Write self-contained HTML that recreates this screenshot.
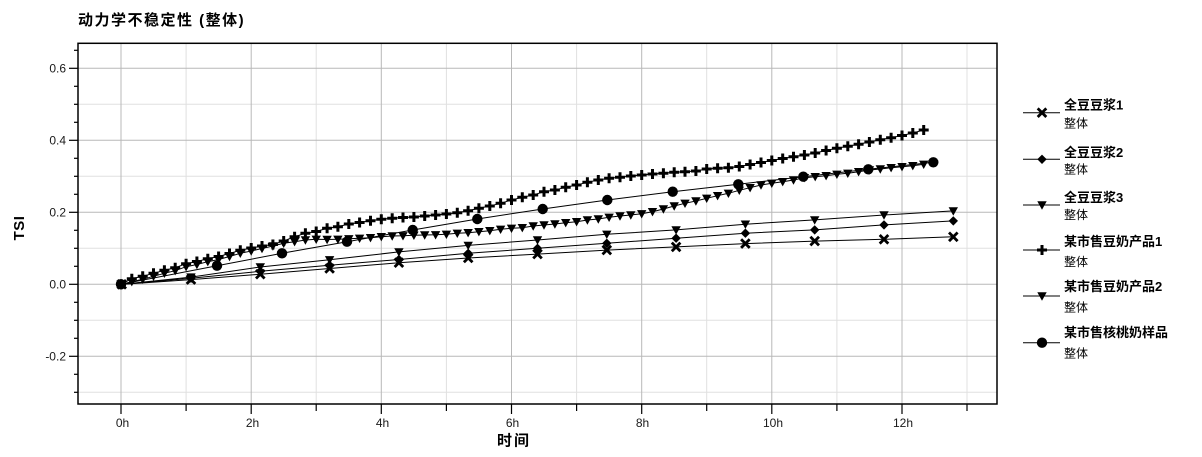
<!DOCTYPE html>
<html>
<head>
<meta charset="utf-8">
<style>
  html, body { margin: 0; padding: 0; background: #fff; }
  body { width: 1202px; height: 457px; overflow: hidden; position: relative; }
  svg { position: absolute; left: 0; top: 0; }
  .tk { font-family: "Liberation Sans", "Noto Sans CJK SC", sans-serif; font-size: 12px; fill: #1a1a1a; }
  .bold { font-family: "Liberation Sans", "Noto Sans CJK SC", sans-serif; font-weight: bold; fill: #000; }
  .lg { font-family: "Liberation Sans", "Noto Sans CJK SC", sans-serif; font-size: 12px; fill: #000; }
</style>
</head>
<body>
<svg width="1202" height="457" viewBox="0 0 1202 457" xmlns="http://www.w3.org/2000/svg">
  <defs>
    <marker id="mx" markerUnits="userSpaceOnUse" markerWidth="12" markerHeight="12" refX="6" refY="6" overflow="visible">
      <path d="M1.7,1.7 L10.3,10.3 M10.3,1.7 L1.7,10.3" stroke="#000" stroke-width="2.8" fill="none"/>
    </marker>
    <marker id="md" markerUnits="userSpaceOnUse" markerWidth="12" markerHeight="12" refX="6" refY="6" overflow="visible">
      <path d="M6,1.3 L10.7,6 L6,10.7 L1.3,6 Z" fill="#000"/>
    </marker>
    <marker id="mt" markerUnits="userSpaceOnUse" markerWidth="12" markerHeight="12" refX="6" refY="6" overflow="visible">
      <path d="M1.3,2.3 L10.7,2.3 L6,10.7 Z" fill="#000"/>
    </marker>
    <marker id="mp" markerUnits="userSpaceOnUse" markerWidth="12" markerHeight="12" refX="6" refY="6" overflow="visible">
      <path d="M1,6 H11 M6,1 V11" stroke="#000" stroke-width="3" fill="none"/>
    </marker>
    <marker id="mc" markerUnits="userSpaceOnUse" markerWidth="12" markerHeight="12" refX="6" refY="6" overflow="visible">
      <circle cx="6" cy="6" r="5.2" fill="#000"/>
    </marker>
  </defs>

  <!-- Title -->
  <text class="bold" x="78" y="25" font-size="15" letter-spacing="1.5">动力学不稳定性 (整体)</text>

  <!-- minor grid -->
  <g stroke="#e0e0e0" stroke-width="1">
    <line x1="186.1" y1="43" x2="186.1" y2="404"/>
    <line x1="316.2" y1="43" x2="316.2" y2="404"/>
    <line x1="446.4" y1="43" x2="446.4" y2="404"/>
    <line x1="576.6" y1="43" x2="576.6" y2="404"/>
    <line x1="706.7" y1="43" x2="706.7" y2="404"/>
    <line x1="836.9" y1="43" x2="836.9" y2="404"/>
    <line x1="967" y1="43" x2="967" y2="404"/>
    <line x1="78" y1="104.3" x2="997" y2="104.3"/>
    <line x1="78" y1="176.3" x2="997" y2="176.3"/>
    <line x1="78" y1="248.3" x2="997" y2="248.3"/>
    <line x1="78" y1="320.3" x2="997" y2="320.3"/>
    <line x1="78" y1="392.3" x2="997" y2="392.3"/>
  </g>
  <!-- major grid -->
  <g stroke="#b8b8b8" stroke-width="1">
    <line x1="121" y1="43" x2="121" y2="404"/>
    <line x1="251.2" y1="43" x2="251.2" y2="404"/>
    <line x1="381.3" y1="43" x2="381.3" y2="404"/>
    <line x1="511.5" y1="43" x2="511.5" y2="404"/>
    <line x1="641.7" y1="43" x2="641.7" y2="404"/>
    <line x1="771.8" y1="43" x2="771.8" y2="404"/>
    <line x1="902" y1="43" x2="902" y2="404"/>
    <line x1="78" y1="68.3" x2="997" y2="68.3"/>
    <line x1="78" y1="140.3" x2="997" y2="140.3"/>
    <line x1="78" y1="212.3" x2="997" y2="212.3"/>
    <line x1="78" y1="284.3" x2="997" y2="284.3"/>
    <line x1="78" y1="356.3" x2="997" y2="356.3"/>
  </g>

  <!-- Frame -->
  <rect x="78" y="43.3" width="919" height="360.7" fill="none" stroke="#000" stroke-width="1.5"/>

  <!-- Y ticks -->
  <g stroke="#000" stroke-width="1.2">
    <line x1="74" y1="50.3" x2="78" y2="50.3"/>
    <line x1="69" y1="68.3" x2="78" y2="68.3"/>
    <line x1="74" y1="86.3" x2="78" y2="86.3"/>
    <line x1="74" y1="104.3" x2="78" y2="104.3"/>
    <line x1="74" y1="122.3" x2="78" y2="122.3"/>
    <line x1="69" y1="140.3" x2="78" y2="140.3"/>
    <line x1="74" y1="158.3" x2="78" y2="158.3"/>
    <line x1="74" y1="176.3" x2="78" y2="176.3"/>
    <line x1="74" y1="194.3" x2="78" y2="194.3"/>
    <line x1="69" y1="212.3" x2="78" y2="212.3"/>
    <line x1="74" y1="230.3" x2="78" y2="230.3"/>
    <line x1="74" y1="248.3" x2="78" y2="248.3"/>
    <line x1="74" y1="266.3" x2="78" y2="266.3"/>
    <line x1="69" y1="284.3" x2="78" y2="284.3"/>
    <line x1="74" y1="302.3" x2="78" y2="302.3"/>
    <line x1="74" y1="320.3" x2="78" y2="320.3"/>
    <line x1="74" y1="338.3" x2="78" y2="338.3"/>
    <line x1="69" y1="356.3" x2="78" y2="356.3"/>
    <line x1="74" y1="374.3" x2="78" y2="374.3"/>
    <line x1="74" y1="392.3" x2="78" y2="392.3"/>
  </g>
  <!-- Y labels -->
  <g class="tk" text-anchor="end">
    <text x="66" y="72.5">0.6</text>
    <text x="66" y="144.5">0.4</text>
    <text x="66" y="216.5">0.2</text>
    <text x="66" y="288.5">0.0</text>
    <text x="66" y="360.5">-0.2</text>
  </g>
  <text class="bold" font-size="15" letter-spacing="0.5" transform="translate(24,228) rotate(-90)" text-anchor="middle">TSI</text>

  <!-- X ticks -->
  <g stroke="#000" stroke-width="1.2">
    <line x1="121" y1="404" x2="121" y2="414"/>
    <line x1="186.1" y1="404" x2="186.1" y2="411"/>
    <line x1="251.2" y1="404" x2="251.2" y2="414"/>
    <line x1="316.2" y1="404" x2="316.2" y2="411"/>
    <line x1="381.3" y1="404" x2="381.3" y2="414"/>
    <line x1="446.4" y1="404" x2="446.4" y2="411"/>
    <line x1="511.5" y1="404" x2="511.5" y2="414"/>
    <line x1="576.6" y1="404" x2="576.6" y2="411"/>
    <line x1="641.7" y1="404" x2="641.7" y2="414"/>
    <line x1="706.7" y1="404" x2="706.7" y2="411"/>
    <line x1="771.8" y1="404" x2="771.8" y2="414"/>
    <line x1="836.9" y1="404" x2="836.9" y2="411"/>
    <line x1="902" y1="404" x2="902" y2="414"/>
    <line x1="967" y1="404" x2="967" y2="411"/>
  </g>
  <g class="tk" text-anchor="middle">
    <text x="122.5" y="427">0h</text>
    <text x="252.5" y="427">2h</text>
    <text x="382.5" y="427">4h</text>
    <text x="512.5" y="427">6h</text>
    <text x="642.5" y="427">8h</text>
    <text x="773" y="427">10h</text>
    <text x="903" y="427">12h</text>
  </g>
  <text class="bold" x="514" y="445.5" font-size="15" letter-spacing="2" text-anchor="middle">时间</text>

  <!-- Series -->
  <g fill="none" stroke="#000" stroke-width="1">
    <polyline marker-start="url(#mx)" marker-mid="url(#mx)" marker-end="url(#mx)"
      points="121.7,284.3 191,279.6 260.3,274.2 329.6,268.5 398.9,262.7 468.2,258 537.5,254.1 606.8,250.1 676.1,246.9 745.4,243.6 814.7,241.1 884,239.3 953.3,236.8"/>
    <polyline marker-start="url(#md)" marker-mid="url(#md)" marker-end="url(#md)"
      points="121.7,284.3 191,278.2 260.3,271.3 329.6,265.2 398.9,259.5 468.2,253.3 537.5,248.3 606.8,243.3 676.1,238.2 745.4,233.2 814.7,229.9 884,224.9 953.3,220.9"/>
    <polyline marker-start="url(#mt)" marker-mid="url(#mt)" marker-end="url(#mt)"
      points="121.7,284.3 191,277.1 260.3,267 329.6,259.8 398.9,251.9 468.2,245.4 537.5,240 606.8,234.3 676.1,229.9 745.4,224.2 814.7,219.9 884,215 953.3,210.9"/>
    <polyline marker-start="url(#mp)" marker-mid="url(#mp)" marker-end="url(#mp)"
      points="121,284.3 131.8,278.7 142.7,276.3 153.5,273.3 164.4,270.3 175.2,267.7 186.1,263.7 196.9,261.5 207.8,258.7 218.6,256.5 229.5,253.5 240.3,250.3 251.2,248 262,246 272.9,244.5 283.7,241 294.6,236.7 305.4,233.3 316.2,231.5 327.1,228.3 337.9,226.7 348.8,224 359.6,222.5 370.5,220.7 381.3,219.3 392.2,218.3 403,217.5 413.9,217 424.7,216 435.6,215 446.4,214 457.3,212.7 468.1,210.7 478.9,208.3 489.8,206 500.6,203.3 511.5,200 522.3,197.3 533.2,195 544,191.7 554.9,190 565.7,187.3 576.6,185 587.4,182.3 598.3,180 609.1,178.3 620,177.3 630.8,176 641.7,175 652.5,174 663.4,173.3 674.2,172.3 685,171.7 695.9,171 706.7,169 717.6,168.3 728.4,167.7 739.3,166.5 750.1,164.5 761,162.5 771.8,160.5 782.7,158.5 793.5,156.7 804.4,155 815.2,153 826.1,150.5 836.9,148.3 847.8,146.3 858.6,144.3 869.4,142 880.3,139.7 891.1,137.7 902,135.5 912.8,133 923.7,130"/>
    <polyline marker-start="url(#mt)" marker-mid="url(#mt)" marker-end="url(#mt)"
      points="121,284.3 131.8,281.7 142.7,279.3 153.5,276.3 164.4,273.3 175.2,270.7 186.1,266.7 196.9,264.5 207.8,261.7 218.6,259.5 229.5,256.5 240.3,253.3 251.2,251 262,248.5 272.9,246 283.7,243.3 294.6,241.7 305.4,240 316.2,239.3 327.1,239.5 337.9,239.3 348.8,238.8 359.6,238.3 370.5,237.7 381.3,236.7 392.2,236 403,235.8 413.9,235.3 424.7,235 435.6,234.8 446.4,234.3 457.3,233.3 468.1,232.7 478.9,231.7 489.8,230.7 500.6,229.3 511.5,228.3 522.3,227.7 533.2,226 544,225 554.9,224 565.7,222.7 576.6,221.7 587.4,220 598.3,219 609.1,217.3 620,216 630.8,215 641.7,213.8 652.5,211.7 663.4,209 674.2,206 685,203.3 695.9,201 706.7,198.3 717.6,195.7 728.4,193.3 739.3,190.3 750.1,187.7 761,185 771.8,183.3 782.7,181.7 793.5,180 804.4,177.7 815.2,176.7 826.1,175.7 836.9,174.3 847.8,173.3 858.6,171.7 869.4,170 880.3,169 891.1,167.7 902,166.7 912.8,165.7 923.7,164.3"/>
    <polyline marker-start="url(#mc)" marker-mid="url(#mc)" marker-end="url(#mc)"
      points="121,284.3 217,265.7 282,253.3 347,241.7 412.7,230 477.3,219 542.7,209 607.3,200 672.7,191.7 738.3,184.3 803.3,176.7 868.3,169.3 933.3,162.3"/>
  </g>

  <!-- Legend -->
  <g fill="none" stroke="#000" stroke-width="1">
    <polyline points="1023,112.7 1042,112.7 1060,112.7" marker-mid="url(#mx)"/>
    <polyline points="1023,159.3 1042,159.3 1060,159.3" marker-mid="url(#md)"/>
    <polyline points="1023,205 1042,205 1060,205" marker-mid="url(#mt)"/>
    <polyline points="1023,250 1042,250 1060,250" marker-mid="url(#mp)"/>
    <polyline points="1023,296 1042,296 1060,296" marker-mid="url(#mt)"/>
    <polyline points="1023,342.7 1042,342.7 1060,342.7" marker-mid="url(#mc)"/>
  </g>
  <g class="bold" font-size="13">
    <text x="1064" y="109.5">全豆豆浆1</text>
    <text x="1064" y="157">全豆豆浆2</text>
    <text x="1064" y="201.8">全豆豆浆3</text>
    <text x="1064" y="246.2">某市售豆奶产品1</text>
    <text x="1064" y="291.2">某市售豆奶产品2</text>
    <text x="1064" y="337.2">某市售核桃奶样品</text>
  </g>
  <g class="lg">
    <text x="1064" y="127.5">整体</text>
    <text x="1064" y="173.5">整体</text>
    <text x="1064" y="219.2">整体</text>
    <text x="1064" y="265.9">整体</text>
    <text x="1064" y="311.5">整体</text>
    <text x="1064" y="357.5">整体</text>
  </g>
</svg>
</body>
</html>
